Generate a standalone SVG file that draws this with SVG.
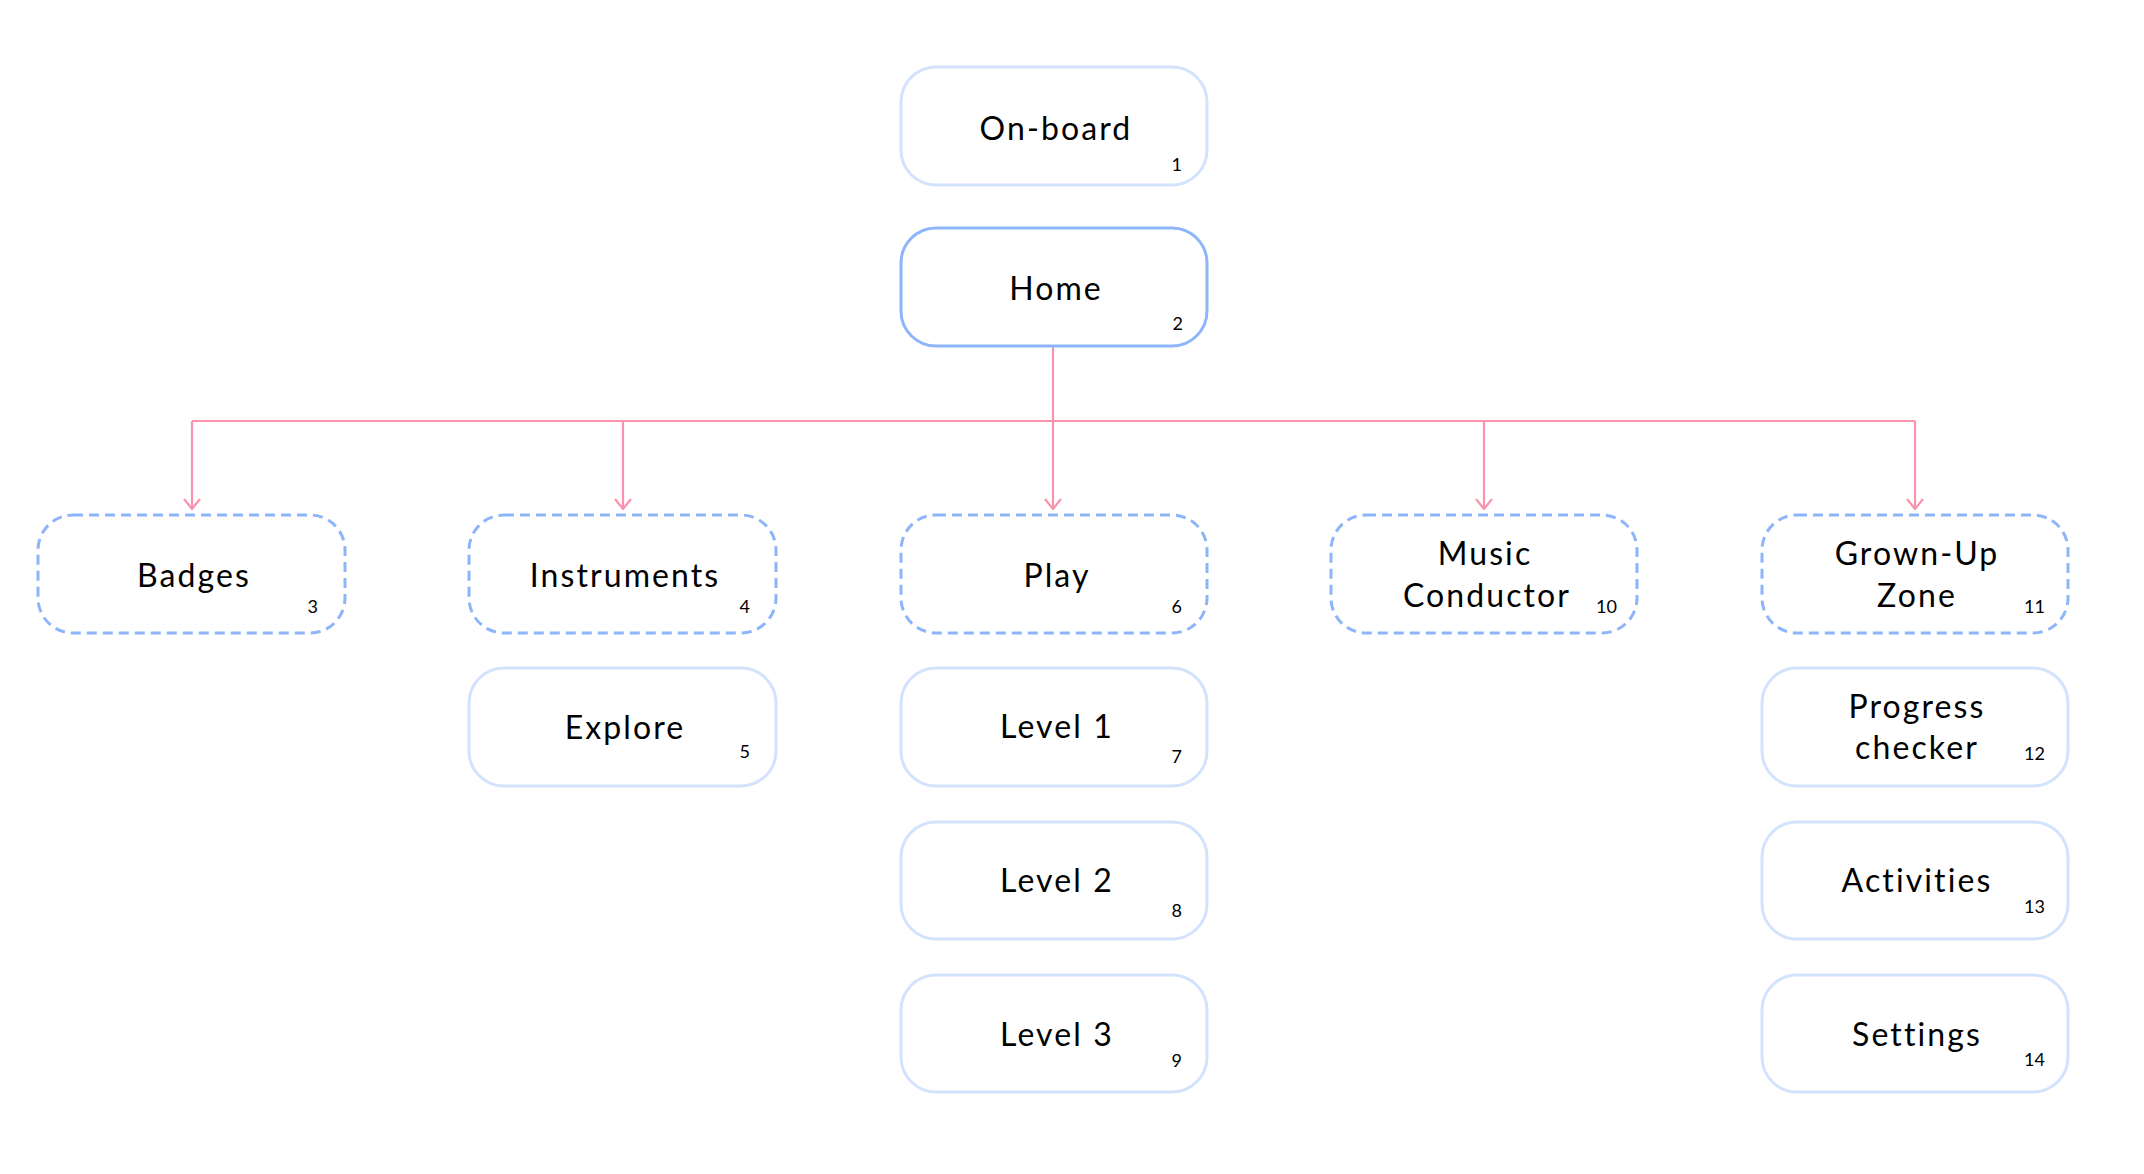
<svg xmlns="http://www.w3.org/2000/svg" width="2144" height="1174" viewBox="0 0 2144 1174">
<style>
.box{fill:#fff;stroke:#d3e2fd;stroke-width:3}
.home{fill:#fff;stroke:#8db5fa;stroke-width:3}
.dash{fill:#fff;stroke:#8db5fa;stroke-width:3;stroke-dasharray:10 6}
.lbl{font-family:Lato,"Open Sans","Liberation Sans",sans-serif;font-size:32px;letter-spacing:2.1px;fill:#000;text-anchor:middle}
.num{font-family:Lato,"Open Sans","Liberation Sans",sans-serif;font-size:18px;fill:#000;text-anchor:end}
.conn{fill:none;stroke:#f993ae;stroke-width:2.2}
</style>
<defs>
<marker id="arr" viewBox="0 0 12 18" refX="11" refY="9" markerWidth="12" markerHeight="18" markerUnits="userSpaceOnUse" orient="auto">
<path d="M1,1 L11,9 L1,17" fill="none" stroke="#f993ae" stroke-width="2.2"/>
</marker>
</defs>
<rect width="2144" height="1174" fill="#fff"/>
<g id="connectors">
<path class="conn" d="M1053,346 V421"/>
<path class="conn" d="M192,421 H1915"/>
<path class="conn" d="M192,421 V509" marker-end="url(#arr)"/>
<path class="conn" d="M623,421 V509" marker-end="url(#arr)"/>
<path class="conn" d="M1053,421 V509" marker-end="url(#arr)"/>
<path class="conn" d="M1484,421 V509" marker-end="url(#arr)"/>
<path class="conn" d="M1915,421 V509" marker-end="url(#arr)"/>
</g>
<g id="n1"><rect class="box" x="901" y="67" width="306" height="118" rx="35"/><text class="lbl" x="1056" y="140">On-board</text><text class="num" x="1182" y="171">1</text></g>
<g id="n2"><rect class="home" x="901" y="228" width="306" height="118" rx="35"/><text class="lbl" x="1056" y="300">Home</text><text class="num" x="1183" y="330">2</text></g>
<g id="n3"><rect class="dash" x="38" y="515" width="307" height="118" rx="35"/><text class="lbl" x="194" y="587">Badges</text><text class="num" x="318" y="613">3</text></g>
<g id="n4"><rect class="dash" x="469" y="515" width="307" height="118" rx="35"/><text class="lbl" x="625" y="587">Instruments</text><text class="num" x="750" y="613">4</text></g>
<g id="n5"><rect class="box" x="469" y="668" width="307" height="118" rx="35"/><text class="lbl" x="625" y="739">Explore</text><text class="num" x="750" y="758">5</text></g>
<g id="n6"><rect class="dash" x="901" y="515" width="306" height="118" rx="35"/><text class="lbl" x="1057" y="587">Play</text><text class="num" x="1182" y="613">6</text></g>
<g id="n7"><rect class="box" x="901" y="668" width="306" height="118" rx="35"/><text class="lbl" x="1057" y="738">Level 1</text><text class="num" x="1182" y="763">7</text></g>
<g id="n8"><rect class="box" x="901" y="822" width="306" height="117" rx="35"/><text class="lbl" x="1057" y="892">Level 2</text><text class="num" x="1182" y="917">8</text></g>
<g id="n9"><rect class="box" x="901" y="975" width="306" height="117" rx="35"/><text class="lbl" x="1057" y="1046">Level 3</text><text class="num" x="1182" y="1067">9</text></g>
<g id="n10"><rect class="dash" x="1331" y="515" width="306" height="118" rx="35"/><text class="lbl" x="1485" y="565">Music</text><text class="lbl" x="1487" y="607">Conductor</text><text class="num" x="1617" y="613">10</text></g>
<g id="n11"><rect class="dash" x="1762" y="515" width="306" height="118" rx="35"/><text class="lbl" x="1917" y="565">Grown-Up</text><text class="lbl" x="1917" y="607">Zone</text><text class="num" x="2045" y="613">11</text></g>
<g id="n12"><rect class="box" x="1762" y="668" width="306" height="118" rx="35"/><text class="lbl" x="1917" y="718">Progress</text><text class="lbl" x="1917" y="759">checker</text><text class="num" x="2045" y="760">12</text></g>
<g id="n13"><rect class="box" x="1762" y="822" width="306" height="117" rx="35"/><text class="lbl" x="1917" y="892">Activities</text><text class="num" x="2045" y="913">13</text></g>
<g id="n14"><rect class="box" x="1762" y="975" width="306" height="117" rx="35"/><text class="lbl" x="1917" y="1046">Settings</text><text class="num" x="2045" y="1066">14</text></g>
</svg>
